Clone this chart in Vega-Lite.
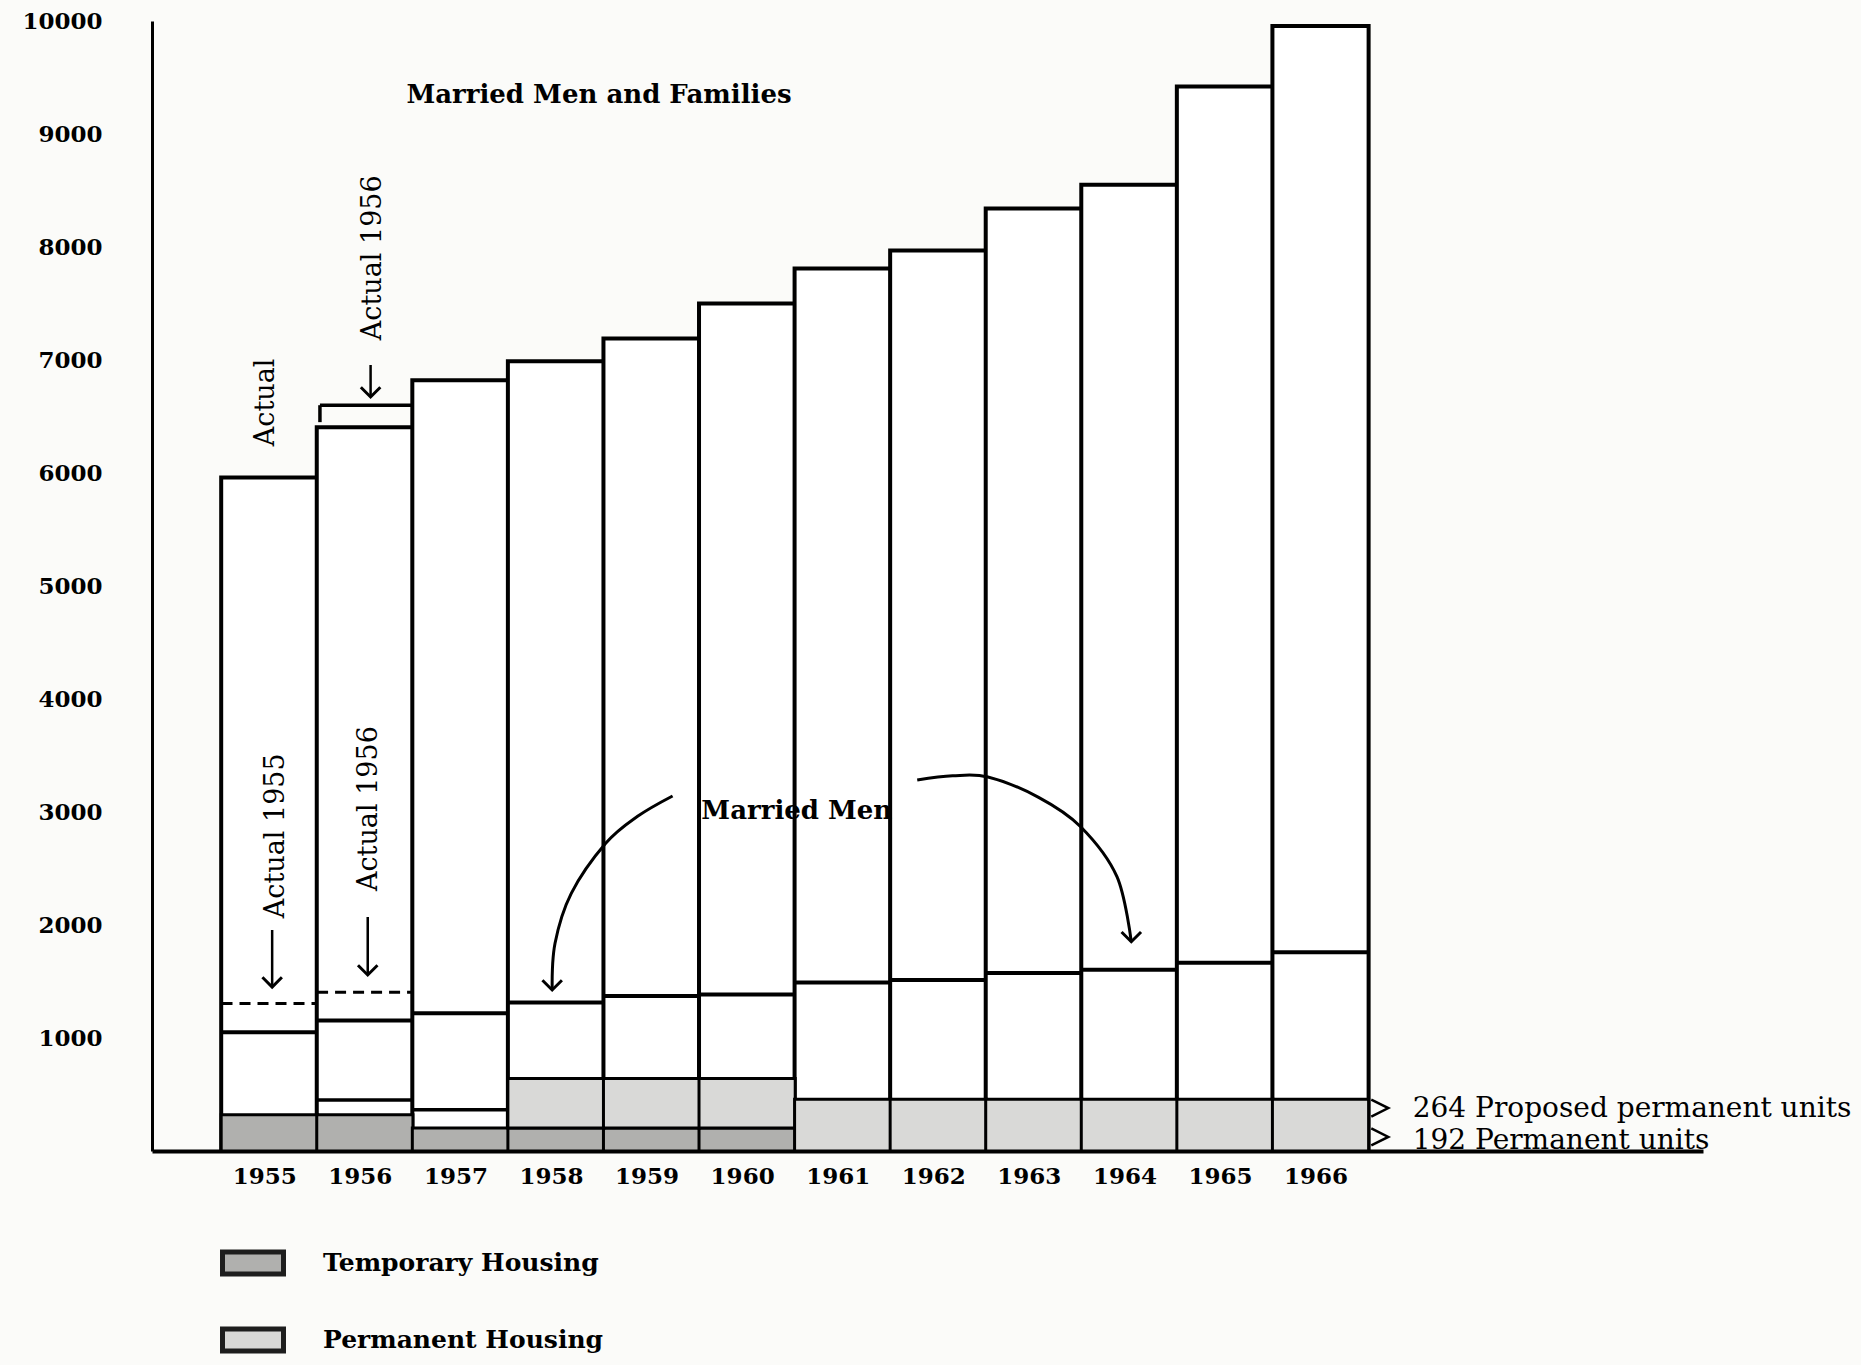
{
"$schema": "https://vega.github.io/schema/vega-lite/v6.json",
"width": 1551,
"height": 1130,
"autosize": {"type": "none"},
"padding": {"left": 152, "top": 21, "right": 158, "bottom": 214},
"background": "#fbfbf9",
"config": {"view": {"stroke": null}, "font": "DejaVu Serif", "text": {"font": "DejaVu Serif", "color": "black"},
"axis": {"grid": false, "ticks": false, "domainColor": "black", "labelFont": "DejaVu Serif", "labelFontWeight": "bold", "labelFontSize": 23, "labelColor": "black", "labelFlush": false, "labelOverlap": false}},
"datasets": {
"years": [
{"year": 1955, "total": 5960, "married": 1050},
{"year": 1956, "total": 6405, "married": 1155},
{"year": 1957, "total": 6820, "married": 1220},
{"year": 1958, "total": 6990, "married": 1315},
{"year": 1959, "total": 7190, "married": 1372},
{"year": 1960, "total": 7500, "married": 1386},
{"year": 1961, "total": 7810, "married": 1492},
{"year": 1962, "total": 7970, "married": 1513},
{"year": 1963, "total": 8340, "married": 1576},
{"year": 1964, "total": 8550, "married": 1605},
{"year": 1965, "total": 9420, "married": 1666},
{"year": 1966, "total": 9955, "married": 1758}
],
"housing": [
{"year": 1955, "type": "Temporary Housing", "low": 0, "high": 320},
{"year": 1956, "type": "Temporary Housing", "low": 0, "high": 320},
{"year": 1957, "type": "Temporary Housing", "low": 0, "high": 204},
{"year": 1958, "type": "Temporary Housing", "low": 0, "high": 204},
{"year": 1959, "type": "Temporary Housing", "low": 0, "high": 204},
{"year": 1960, "type": "Temporary Housing", "low": 0, "high": 204},
{"year": 1958, "type": "Permanent Housing", "low": 204, "high": 641},
{"year": 1959, "type": "Permanent Housing", "low": 204, "high": 641},
{"year": 1960, "type": "Permanent Housing", "low": 204, "high": 641},
{"year": 1961, "type": "Permanent Housing", "low": 0, "high": 458},
{"year": 1962, "type": "Permanent Housing", "low": 0, "high": 458},
{"year": 1963, "type": "Permanent Housing", "low": 0, "high": 458},
{"year": 1964, "type": "Permanent Housing", "low": 0, "high": 458},
{"year": 1965, "type": "Permanent Housing", "low": 0, "high": 458},
{"year": 1966, "type": "Permanent Housing", "low": 0, "high": 458}
],
"outlines": [{"year": 1956, "level": 452}, {"year": 1957, "level": 364}],
"actual": [{"from": 1954.5, "to": 1955.5, "level": 1305}, {"from": 1955.5, "to": 1956.5, "level": 1405}],
"bracket": [
{"x0": 1955.53, "x1": 1956.5, "y0": 6600, "y1": 6600},
{"x0": 1955.53, "x1": 1955.53, "y0": 6450, "y1": 6600}
],
"arcs": [
{"arc": "left", "i": 0, "year": 1959.22, "value": 3142},
{"arc": "left", "i": 1, "year": 1958.85, "value": 2960},
{"arc": "left", "i": 2, "year": 1958.52, "value": 2723},
{"arc": "left", "i": 3, "year": 1958.16, "value": 2280},
{"arc": "left", "i": 4, "year": 1957.99, "value": 1838},
{"arc": "left", "i": 5, "year": 1957.96, "value": 1425},
{"arc": "right", "i": 0, "year": 1961.78, "value": 3283},
{"arc": "right", "i": 1, "year": 1962.15, "value": 3320},
{"arc": "right", "i": 2, "year": 1962.52, "value": 3310},
{"arc": "right", "i": 3, "year": 1963.05, "value": 3130},
{"arc": "right", "i": 4, "year": 1963.49, "value": 2870},
{"arc": "right", "i": 5, "year": 1963.87, "value": 2428},
{"arc": "right", "i": 6, "year": 1964.02, "value": 1852}
],
"shafts": [
{"year": 1956.06, "top": 6956, "tip": 6673},
{"year": 1955.03, "top": 1956, "tip": 1451},
{"year": 1956.03, "top": 2071, "tip": 1558}
],
"heads": [
{"year": 1957.96, "value": 1425},
{"year": 1964.02, "value": 1852},
{"year": 1956.06, "value": 6673},
{"year": 1955.03, "value": 1451},
{"year": 1956.03, "value": 1558}
],
"vlabels": [
{"label": "Actual", "year": 1954.97, "value": 6625},
{"label": "Actual 1956", "year": 1956.09, "value": 7905},
{"label": "Actual 1955", "year": 1955.07, "value": 2790},
{"label": "Actual 1956", "year": 1956.04, "value": 3030}
],
"titles": [
{"label": "Married Men and Families", "year": 1958.45, "value": 9345},
{"label": "Married Men", "year": 1960.52, "value": 3005}
],
"notes": [
{"label": "264 Proposed permanent units", "year": 1966.965, "value": 300},
{"label": "192 Permanent units", "year": 1966.965, "value": 15}
],
"markers": [{"year": 1966.62, "value": 380}, {"year": 1966.62, "value": 124}]
},
"layer": [
{
"data": {"name": "years"},
"mark": {"type": "bar", "orient": "vertical", "width": 96.2, "fill": "white", "stroke": "black", "strokeWidth": 4},
"encoding": {
"x": {"field": "year", "type": "quantitative", "scale": {"domain": [1953.825, 1969.95], "nice": false, "zero": false},
"axis": {"title": null, "values": [1955, 1956, 1957, 1958, 1959, 1960, 1961, 1962, 1963, 1964, 1965, 1966], "format": "d", "ticks": false, "grid": false, "domainColor": "black", "domainWidth": 4, "labelPadding": 14, "labelOffset": -5}},
"y": {"field": "total", "type": "quantitative", "scale": {"domain": [0, 10000], "nice": false, "zero": false},
"axis": {"title": null, "values": [1000, 2000, 3000, 4000, 5000, 6000, 7000, 8000, 9000, 10000], "format": "d", "ticks": false, "grid": false, "domainColor": "black", "domainWidth": 3, "labelPadding": 50}}
}
},
{
"data": {"name": "housing"},
"mark": {"type": "bar", "orient": "vertical", "width": 96.2, "stroke": "black", "strokeWidth": 3, "opacity": 1},
"encoding": {
"x": {"field": "year", "type": "quantitative", "scale": {"domain": [1953.825, 1969.95], "nice": false, "zero": false}},
"y": {"field": "low", "type": "quantitative", "scale": {"domain": [0, 10000], "nice": false, "zero": false}},
"y2": {"field": "high"},
"color": {"field": "type", "type": "nominal",
"scale": {"domain": ["Temporary Housing", "Permanent Housing"], "range": ["#b0b0ae", "#d9d9d7"]},
"legend": {"orient": "none", "legendX": 68, "legendY": 1209, "title": null, "padding": 0,
"symbolType": "M-1,-0.36H1V0.36H-1Z", "symbolSize": 3721, "symbolStrokeColor": "#1e1e1e", "symbolStrokeWidth": 5, "symbolOpacity": 1,
"labelFont": "DejaVu Serif", "labelFontSize": 25, "labelFontWeight": "bold", "labelColor": "black", "labelOffset": 37, "rowPadding": 23, "labelLimit": 600}}
}
},
{
"data": {"name": "years"},
"mark": {"type": "tick", "orient": "horizontal", "size": 96.2, "thickness": 4, "color": "black", "opacity": 1},
"encoding": {
"x": {"field": "year", "type": "quantitative", "scale": {"domain": [1953.825, 1969.95], "nice": false, "zero": false}},
"y": {"field": "married", "type": "quantitative", "scale": {"domain": [0, 10000], "nice": false, "zero": false}}
}
},
{
"data": {"name": "outlines"},
"mark": {"type": "tick", "orient": "horizontal", "size": 96.2, "thickness": 3.5, "color": "black", "opacity": 1},
"encoding": {
"x": {"field": "year", "type": "quantitative", "scale": {"domain": [1953.825, 1969.95], "nice": false, "zero": false}},
"y": {"field": "level", "type": "quantitative", "scale": {"domain": [0, 10000], "nice": false, "zero": false}}
}
},
{
"data": {"name": "actual"},
"mark": {"type": "rule", "color": "black", "strokeWidth": 3, "strokeDash": [11, 7]},
"encoding": {
"x": {"field": "from", "type": "quantitative", "scale": {"domain": [1953.825, 1969.95], "nice": false, "zero": false}},
"x2": {"field": "to"},
"y": {"field": "level", "type": "quantitative", "scale": {"domain": [0, 10000], "nice": false, "zero": false}}
}
},
{
"data": {"name": "bracket"},
"mark": {"type": "rule", "color": "black", "strokeWidth": 3.5},
"encoding": {
"x": {"field": "x0", "type": "quantitative", "scale": {"domain": [1953.825, 1969.95], "nice": false, "zero": false}},
"x2": {"field": "x1"},
"y": {"field": "y0", "type": "quantitative", "scale": {"domain": [0, 10000], "nice": false, "zero": false}},
"y2": {"field": "y1"}
}
},
{
"data": {"name": "arcs"},
"mark": {"type": "line", "color": "black", "strokeWidth": 3, "interpolate": "cardinal"},
"encoding": {
"x": {"field": "year", "type": "quantitative", "scale": {"domain": [1953.825, 1969.95], "nice": false, "zero": false}},
"y": {"field": "value", "type": "quantitative", "scale": {"domain": [0, 10000], "nice": false, "zero": false}},
"detail": {"field": "arc", "type": "nominal"},
"order": {"field": "i", "type": "quantitative"}
}
},
{
"data": {"name": "shafts"},
"mark": {"type": "rule", "color": "black", "strokeWidth": 2.5},
"encoding": {
"x": {"field": "year", "type": "quantitative", "scale": {"domain": [1953.825, 1969.95], "nice": false, "zero": false}},
"y": {"field": "top", "type": "quantitative", "scale": {"domain": [0, 10000], "nice": false, "zero": false}},
"y2": {"field": "tip"}
}
},
{
"data": {"name": "heads"},
"mark": {"type": "point", "shape": "M-1,-1L0,0L1,-1", "filled": false, "stroke": "black", "strokeWidth": 3, "size": 380, "opacity": 1},
"encoding": {
"x": {"field": "year", "type": "quantitative", "scale": {"domain": [1953.825, 1969.95], "nice": false, "zero": false}},
"y": {"field": "value", "type": "quantitative", "scale": {"domain": [0, 10000], "nice": false, "zero": false}}
}
},
{
"data": {"name": "markers"},
"mark": {"type": "point", "shape": "M-1,-1L1,0L-1,1", "filled": false, "stroke": "black", "strokeWidth": 2.5, "size": 289, "opacity": 1},
"encoding": {
"x": {"field": "year", "type": "quantitative", "scale": {"domain": [1953.825, 1969.95], "nice": false, "zero": false}},
"y": {"field": "value", "type": "quantitative", "scale": {"domain": [0, 10000], "nice": false, "zero": false}}
}
},
{
"data": {"name": "vlabels"},
"mark": {"type": "text", "angle": 270, "align": "center", "baseline": "middle", "fontSize": 27, "font": "DejaVu Serif", "color": "black"},
"encoding": {
"x": {"field": "year", "type": "quantitative", "scale": {"domain": [1953.825, 1969.95], "nice": false, "zero": false}},
"y": {"field": "value", "type": "quantitative", "scale": {"domain": [0, 10000], "nice": false, "zero": false}},
"text": {"field": "label"}
}
},
{
"data": {"name": "titles"},
"mark": {"type": "text", "align": "center", "baseline": "middle", "fontSize": 26, "fontWeight": "bold", "font": "DejaVu Serif", "color": "black"},
"encoding": {
"x": {"field": "year", "type": "quantitative", "scale": {"domain": [1953.825, 1969.95], "nice": false, "zero": false}},
"y": {"field": "value", "type": "quantitative", "scale": {"domain": [0, 10000], "nice": false, "zero": false}},
"text": {"field": "label"}
}
},
{
"data": {"name": "notes"},
"mark": {"type": "text", "align": "left", "baseline": "alphabetic", "fontSize": 28, "font": "DejaVu Serif", "color": "black"},
"encoding": {
"x": {"field": "year", "type": "quantitative", "scale": {"domain": [1953.825, 1969.95], "nice": false, "zero": false}},
"y": {"field": "value", "type": "quantitative", "scale": {"domain": [0, 10000], "nice": false, "zero": false}},
"text": {"field": "label"}
}
}
]
}
